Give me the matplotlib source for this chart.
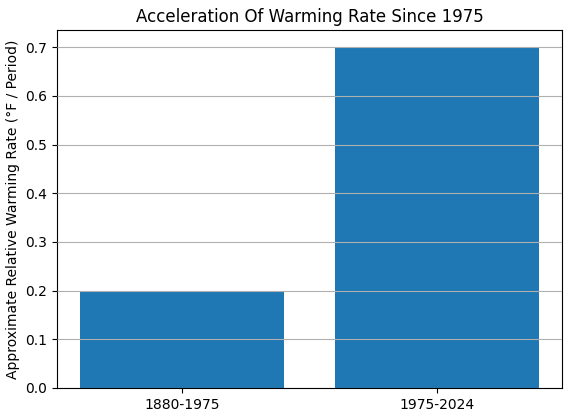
import matplotlib.pyplot as plt

periods = ['1880-1975', '1975-2024']
rates = [0.2, 0.7]

fig, ax = plt.subplots(figsize=(5.7, 4.19), dpi=100)
ax.bar(periods, rates, color='#1f77b4')
ax.set_axisbelow(False)
ax.grid(axis='y')
ax.set_title('Acceleration Of Warming Rate Since 1975')
ax.set_ylabel('Approximate Relative Warming Rate (°F / Period)')
plt.subplots_adjust(left=0.1, right=0.986, top=0.928, bottom=0.074)
plt.savefig('out.png')
